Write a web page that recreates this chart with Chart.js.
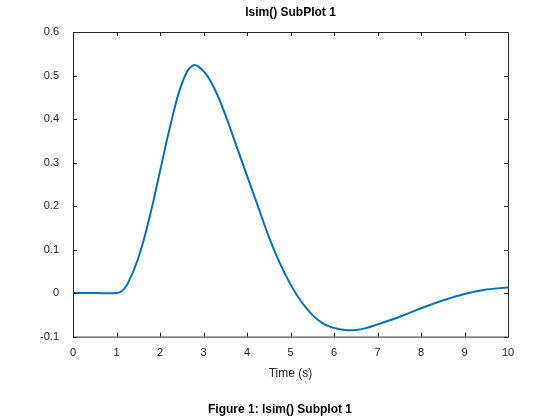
<!DOCTYPE html>
<html><head><script src="https://cdn.jsdelivr.net/npm/chart.js"></script>
<style>body{margin:0;background:#fff}#w{width:560px;height:420px}</style></head>
<body><div id="w"><canvas id="c"></canvas></div>
<script>
const timeValues=[0,0.5,1,1.1,1.25,1.5,1.75,2,2.25,2.5,2.75,3,3.25,3.5,3.75,4,4.25,4.5,4.75,5,5.25,5.5,5.75,6,6.25,6.5,6.75,7,7.5,8,8.5,9,9.5,10];
const responseValues=[0,0,0,0.003,0.02,0.08,0.17,0.28,0.39,0.48,0.523,0.51,0.47,0.41,0.34,0.27,0.20,0.13,0.07,0.02,-0.02,-0.05,-0.07,-0.08,-0.085,-0.085,-0.08,-0.072,-0.055,-0.035,-0.017,-0.002,0.008,0.013];
const xTicks=[0,1,2,3,4,5,6,7,8,9,10];
const yTicks=[-0.1,0,0.1,0.2,0.3,0.4,0.5,0.6];
const titleText='lsim() SubPlot 1';
Chart.defaults.font.family='"Liberation Sans", Arial, sans-serif';
Chart.defaults.color='#262626';
const boxPlugin={id:'box',afterDatasetsDraw(ch){const a=ch.chartArea,c=ch.ctx,x=ch.scales.x,y=ch.scales.y;c.save();c.strokeStyle='#262626';c.lineWidth=1;c.strokeRect(a.left+0.5,a.top+0.5,a.right-a.left,a.bottom-a.top);c.beginPath();
xTicks.forEach(v=>{const p=Math.round(x.getPixelForValue(v))+0.5;c.moveTo(p,a.bottom);c.lineTo(p,a.bottom-4);c.moveTo(p,a.top);c.lineTo(p,a.top+4);});
yTicks.forEach(v=>{const p=Math.round(y.getPixelForValue(v))+0.5;c.moveTo(a.left,p);c.lineTo(a.left+4,p);c.moveTo(a.right,p);c.lineTo(a.right-4,p);});
c.stroke();
c.fillStyle='#000';c.font='bold 12px "Liberation Sans", Arial, sans-serif';c.textAlign='center';c.textBaseline='middle';c.fillText(titleText,(a.left+a.right)/2,13);
c.restore();}};
new Chart(document.getElementById('c'),{type:'line',
data:{datasets:[{data:timeValues.map((t,i)=>({x:t,y:responseValues[i]})),borderColor:'#0072BD',borderWidth:2,pointRadius:0,tension:0.4,fill:false}]},
options:{responsive:true,maintainAspectRatio:false,animation:false,layout:{padding:{top:32,right:0,bottom:0}},
plugins:{legend:{display:false},tooltip:{enabled:false},
subtitle:{display:true,position:'bottom',text:'Figure 1: lsim() Subplot 1',font:{size:12,weight:'bold'},color:'#000',padding:{top:18,bottom:3}}},
scales:{x:{type:'linear',min:0,max:10,afterBuildTicks:s=>{s.ticks=xTicks.map(v=>({value:v}))},grid:{display:false},border:{display:false},ticks:{font:{size:11},padding:2},
title:{display:true,text:'Time (s)',font:{size:12},color:'#262626',padding:{top:2}},afterFit:s=>{s.height=48}},
y:{min:-0.1,max:0.6,afterBuildTicks:s=>{s.ticks=yTicks.map(v=>({value:v}))},grid:{display:false},border:{display:false},ticks:{font:{size:11},padding:6,callback:v=>Math.abs(v)<1e-9?'0':String(Math.round(v*10)/10)},afterFit:s=>{s.width=73}},
r:{position:'right',min:0,max:1,grid:{display:false},border:{display:false},ticks:{display:false},afterFit:s=>{s.width=52}}}},
plugins:[boxPlugin]});
</script></body></html>
